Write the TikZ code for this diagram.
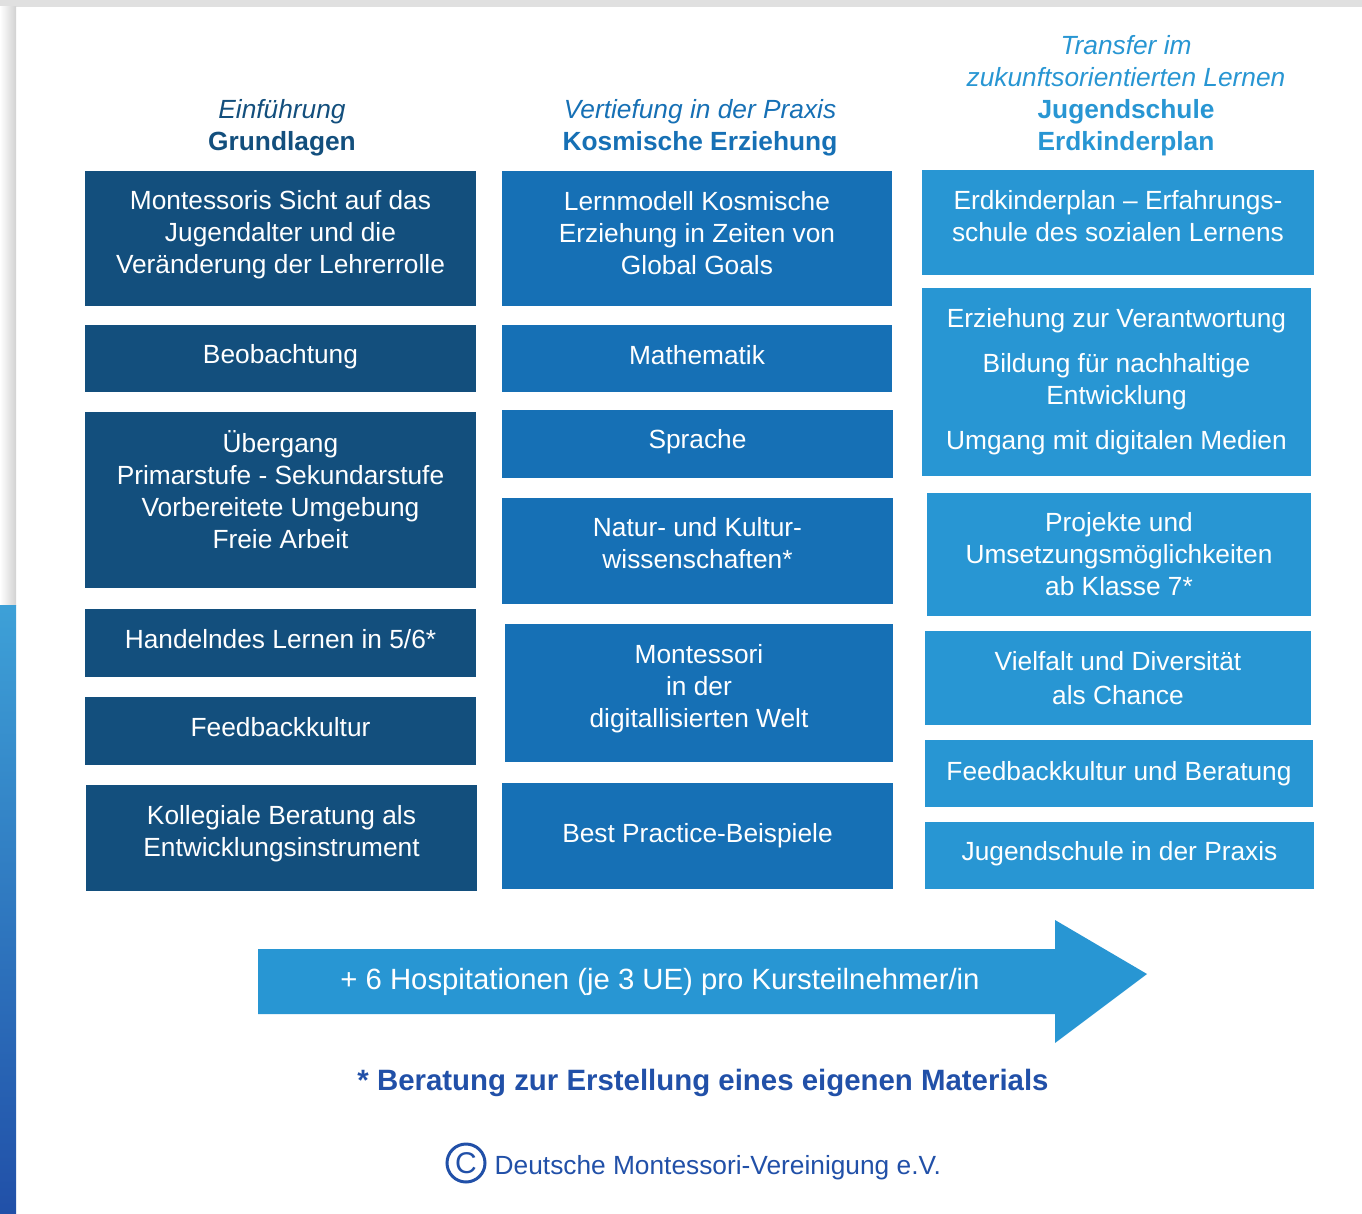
\documentclass[tikz,border=0pt]{standalone}
\usepackage{fontspec}
\setmainfont{Liberation Sans}
\usetikzlibrary{positioning}

\definecolor{dmvdark}{RGB}{19,79,125}
\definecolor{dmvmid}{RGB}{22,112,181}
\definecolor{dmvlight}{RGB}{40,150,211}
\definecolor{dmvnavy}{RGB}{33,80,168}

\begin{document}
\begin{tikzpicture}[
	x=1pt, y=-1pt,
	every node/.style={
		align=center,
		inner sep=0pt,
		font=\fontsize{26.3}{32}\selectfont
	},
	box/.style={
		fill=#1,
		text=white
	},
	head/.style={
		text=#1
	},
	lift/.style={
		text depth=#1
	}
]

% page and frame
\useasboundingbox (0,0) rectangle (1362,1214);
\fill[white] (0,0) rectangle (1362,1214);
\fill[black!12] (0,0) rectangle (1362,7);
\shade[left color=white, right color=black!18] (0,7) rectangle (16,605);
\shade[top color=dmvlight!90!white, bottom color=dmvnavy] (0,605) rectangle (16,1214);

% column headings
\node[head=dmvdark] (headA) at (282,128) {\itshape Einführung\\\bfseries Grundlagen};
\node[head=dmvmid] (headB) at (700,128) {\itshape Vertiefung in der Praxis\\\bfseries Kosmische Erziehung};
\node[head=dmvlight] (headC) at (1126,96) {\itshape Transfer im\\\itshape zukunftsorientierten Lernen\\\bfseries Jugendschule\\\bfseries Erdkinderplan};

% Grundlagen
\node[box=dmvdark, lift=13.5pt, minimum width=391, minimum height=135] (A1) at (280.5,238.5)
	{Montessoris Sicht auf das\\Jugendalter und die\\Veränderung der Lehrerrolle};
\node[box=dmvdark, lift=9.5pt, minimum width=391, minimum height=67] (A2) at (280.5,358.5) {Beobachtung};
\node[box=dmvdark, lift=22pt, minimum width=391, minimum height=176] (A3) at (280.5,500)
	{Übergang\\Primarstufe - Sekundarstufe\\Vorbereitete Umgebung\\Freie Arbeit};
\node[box=dmvdark, lift=8.5pt, minimum width=391, minimum height=68] (A4) at (280.5,643) {Handelndes Lernen in 5/6*};
\node[box=dmvdark, lift=8pt, minimum width=391, minimum height=68] (A5) at (280.5,731) {Feedbackkultur};
\node[box=dmvdark, lift=13.5pt, minimum width=391, minimum height=106] (A6) at (281.5,838)
	{Kollegiale Beratung als\\Entwicklungsinstrument};

% Kosmische Erziehung
\node[box=dmvmid, lift=12pt, minimum width=390, minimum height=135] (B1) at (697,238.5)
	{Lernmodell Kosmische\\Erziehung in Zeiten von\\Global Goals};
\node[box=dmvmid, lift=8pt, minimum width=390, minimum height=67] (B2) at (697,358.5) {Mathematik};
\node[box=dmvmid, lift=9.5pt, minimum width=391, minimum height=68] (B3) at (697.5,444) {Sprache};
\node[box=dmvmid, lift=16pt, minimum width=391, minimum height=106] (B4) at (697.5,551)
	{Natur- und Kultur-\\wissenschaften*};
\node[box=dmvmid, lift=13.5pt, minimum width=388, minimum height=138] (B5) at (699,693)
	{Montessori\\in der\\digitallisierten Welt};
\node[box=dmvmid, minimum width=391, minimum height=106] (B6) at (697.5,836) {Best Practice-Beispiele};

% Erdkinderplan
\node[box=dmvlight, lift=14pt, minimum width=392, minimum height=105] (C1) at (1118,222.5)
	{Erdkinderplan -- Erfahrungs-\\schule des sozialen Lernens};
\node[box=dmvlight, minimum width=389, minimum height=188] (C2) at (1116.5,382)
	{Erziehung zur Verantwortung\\[13pt]Bildung für nachhaltige\\Entwicklung\\[13pt]Umgang mit digitalen Medien};
\node[box=dmvlight, minimum width=384, minimum height=123] (C3) at (1119,554.5)
	{Projekte und\\Umsetzungsmöglichkeiten\\ab Klasse 7*};
\node[box=dmvlight, minimum width=386, minimum height=94] (C4) at (1118,678)
	{Vielfalt und Diversität\\[2pt]als Chance};
\node[box=dmvlight, minimum width=388, minimum height=67] (C5) at (1119,773.5) {Feedbackkultur und Beratung};
\node[box=dmvlight, lift=9.5pt, minimum width=389, minimum height=67] (C6) at (1119.5,855.5) {Jugendschule in der Praxis};

% Hospitationen
\fill[dmvlight] (258,949) -- (1055,949) -- (1055,920) -- (1147,974)
	-- (1055,1043) -- (1055,1014) -- (258,1014) -- cycle;
\node[text=white, font=\fontsize{29.3}{34}\selectfont] (hosp) at (660,982)
	{+ 6 Hospitationen (je 3 UE) pro Kursteilnehmer/in};

% footnote and copyright
\node[text=dmvnavy, font=\fontsize{29.4}{34}\selectfont\bfseries] (foot) at (703,1083)
	{* Beratung zur Erstellung eines eigenen Materials};
\node[draw=dmvnavy, line width=3pt, circle, minimum size=38, text=dmvnavy,
	font=\fontsize{30}{34}\selectfont] (copy) at (466,1163) {C};
\node[text=dmvnavy, right=8pt of copy, yshift=-5pt] (dmv) {Deutsche Montessori-Vereinigung e.V.};

\end{tikzpicture}
\end{document}
